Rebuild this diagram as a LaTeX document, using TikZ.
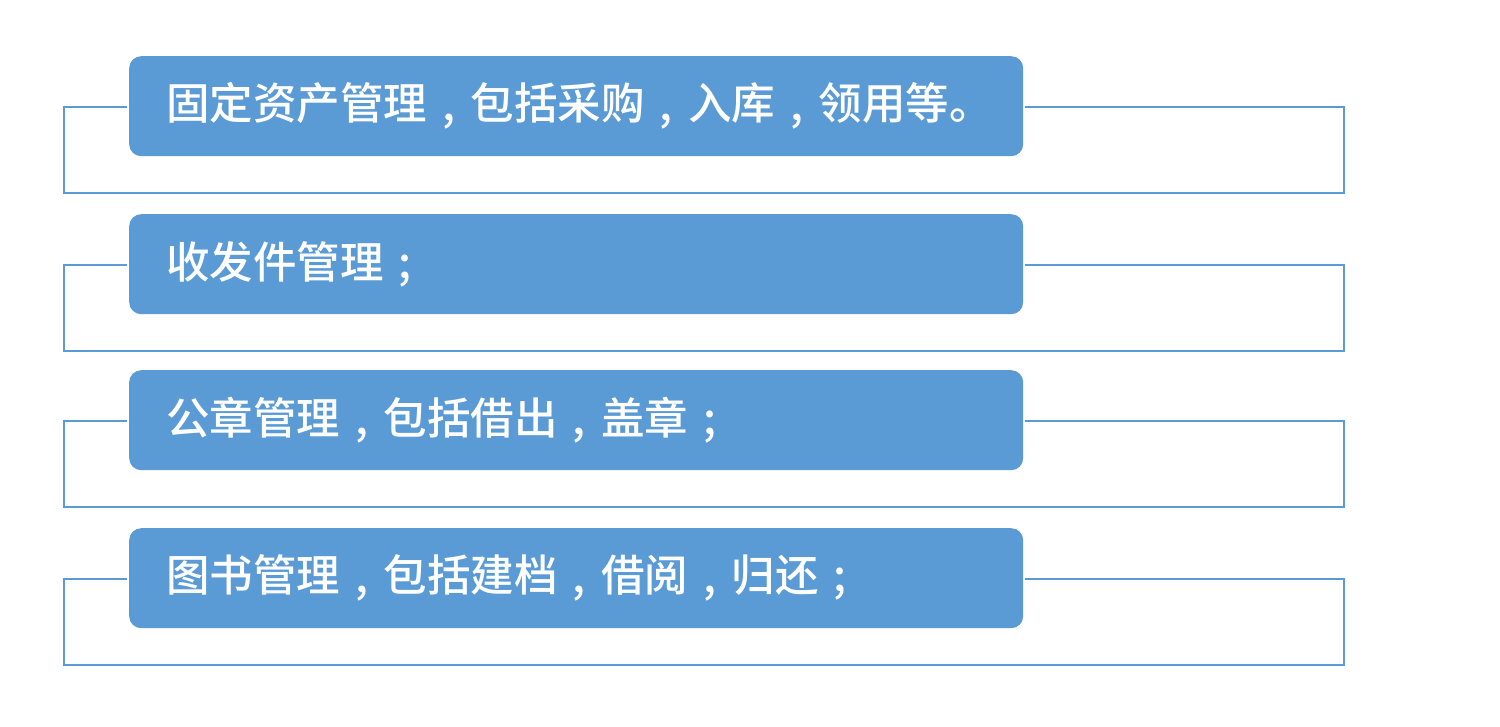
\documentclass[tikz,border=0pt]{standalone}
\usepackage{fontspec}
\newfontfamily\cjk[Kerning=Off,UprightFont=* Medium]{Noto Sans CJK SC}
\newcommand\cm{\makebox[1em][c]{\raisebox{-0.02em}{,}}}
\newcommand\sm{\makebox[1em][c]{;}}
\definecolor{officeblue}{HTML}{5B9BD5}
\tikzset{
  itembox/.style={fill=officeblue, rounded corners=12pt, anchor=north west,
    minimum width=894pt, minimum height=100pt, text width=820pt,
    inner xsep=37pt, inner ysep=0pt, align=left, text=white,
    font=\cjk\fontsize{43.5}{50}\selectfont},
  frameline/.style={draw=officeblue, line width=1.6pt}
}
\begin{document}
\begin{tikzpicture}[x=1pt,y=-1pt]
\useasboundingbox[fill=white] (0,0) rectangle (1500,726);
\foreach \n/\top/\txt in {b1/56/{固定资产管理\cm 包括采购\cm 入库\cm 领用等。},
                          b2/214/{收发件管理\sm},
                          b3/370/{公章管理\cm 包括借出\cm 盖章\sm},
                          b4/528/{图书管理\cm 包括建档\cm 借阅\cm 归还\sm}}{
  \node[itembox] (\n) at (129,\top) {\txt};
  \draw[frameline] ([shift={(-2,1)}]\n.west) -- ([shift={(-65,1)}]\n.west)
    -- ([shift={(-65,87)}]\n.west) -- ([shift={(1215,87)}]\n.west)
    -- ([shift={(1215,1)}]\n.west) -- ([shift={(2,1)}]\n.east);
}
\end{tikzpicture}
\end{document}
